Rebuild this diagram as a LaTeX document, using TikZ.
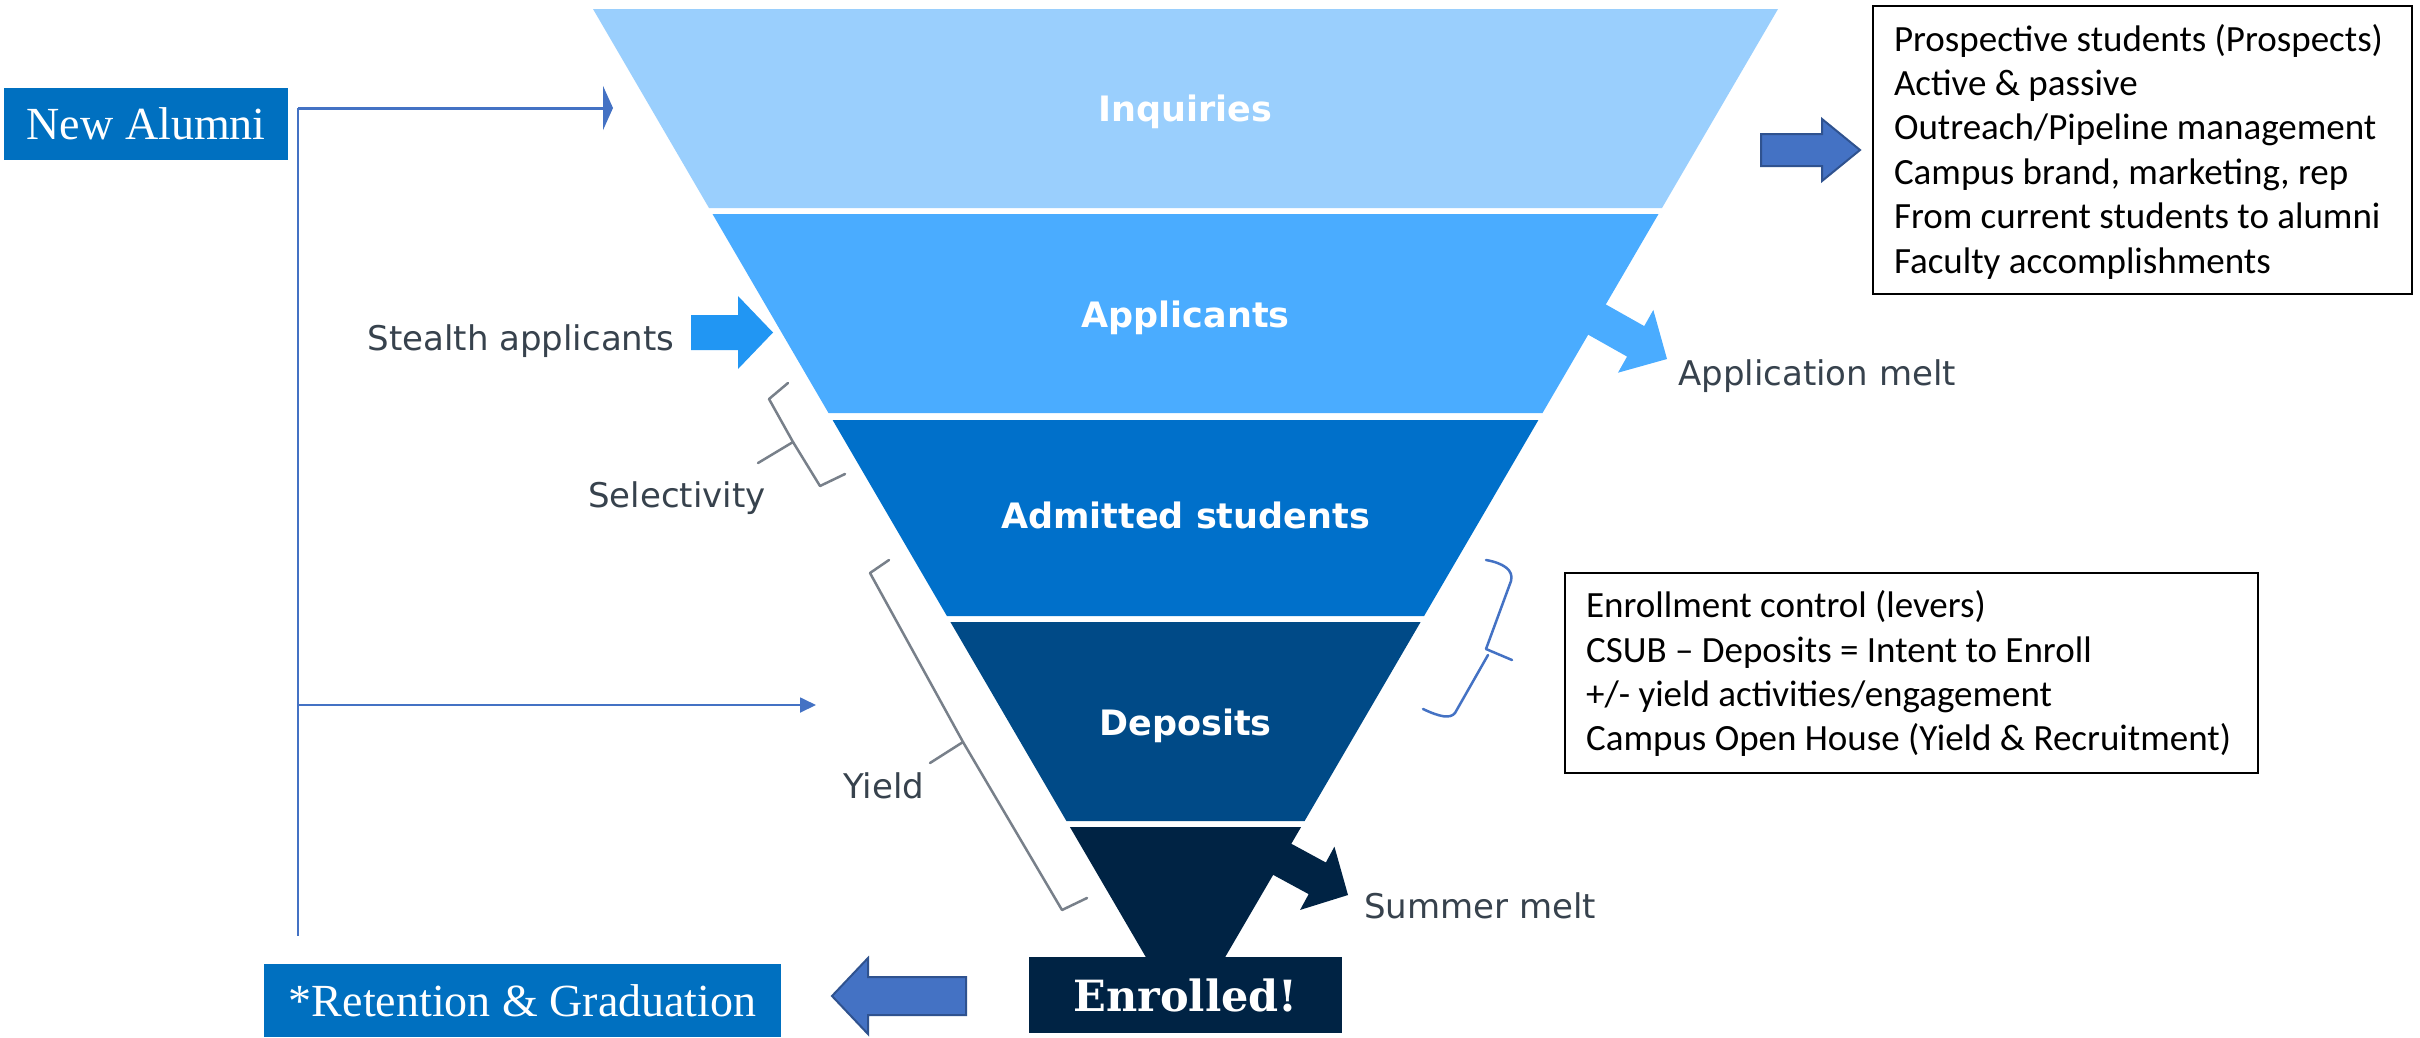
\documentclass[tikz,border=0pt]{standalone}
\usepackage{fontspec}
\setmainfont{Liberation Serif}
\newfontfamily\verd{DejaVu Sans}
\newfontfamily\calib{Carlito}
\newfontfamily\slab{DejaVu Serif}
\usetikzlibrary{arrows.meta}
\definecolor{cInq}{HTML}{9ACFFD}
\definecolor{cApp}{HTML}{4AACFF}
\definecolor{cAdm}{HTML}{0070CA}
\definecolor{cDep}{HTML}{004A87}
\definecolor{cEnr}{HTML}{002344}
\definecolor{cStealth}{HTML}{2196F3}
\definecolor{cBox}{HTML}{0070C0}
\definecolor{cArrow}{HTML}{4472C4}
\definecolor{cArrowB}{HTML}{2F528F}
\definecolor{cBrk}{HTML}{78808A}
\definecolor{cLbl}{HTML}{37424D}
\begin{document}
\begin{tikzpicture}[x=1pt,y=-1pt,
  bandlbl/.style={text=white,font=\verd\bfseries\fontsize{35}{40}\selectfont,anchor=base,inner sep=0pt},
  sidelbl/.style={text=cLbl,font=\verd\fontsize{34}{40}\selectfont,anchor=base west,inner sep=0pt},
  bluebox/.style={fill=cBox,text=white,inner sep=0pt,anchor=north west,font=\fontsize{46}{50}\selectfont},
  infobox/.style={draw=black,line width=2pt,inner sep=0pt,anchor=north west,font=\calib\fontsize{37}{44.4}\selectfont},
  conn/.style={draw=cArrow},
  brk/.style={draw=cBrk,line width=2.5pt,line join=round,line cap=round},
  brace/.style={draw=cArrow,line width=2.5pt,line join=round,line cap=round},
  blockarrow/.style={fill=cArrow,draw=cArrowB,line width=2pt,line join=miter}
]
\useasboundingbox[fill=white] (0,0) rectangle (2420,1037);

% funnel bands
\fill[cInq] (593,9) -- (1778,9) -- (1662,208) -- (709,208) -- cycle;
\fill[cApp] (712.5,214) -- (1658.5,214) -- (1542.5,413) -- (828.5,413) -- cycle;
\fill[cAdm] (832.6,420) -- (1538.4,420) -- (1424.1,616) -- (946.9,616) -- cycle;
\fill[cDep] (950.4,622) -- (1420.6,622) -- (1304.6,821) -- (1066.4,821) -- cycle;
\fill[cEnr] (1069.9,827) -- (1301.1,827) -- (1185.5,1025) -- cycle;

% melt arrows
\begin{scope}[shift={(1667,359)},rotate=-29.4]
  \fill[cApp] (0,0) -- (-36,36) -- (-36,17.5) -- (-110,17.5) -- (-110,-17.5) -- (-36,-17.5) -- (-36,-36) -- cycle;
\end{scope}
\begin{scope}[shift={(1348,895)},rotate=-28.5]
  \fill[cEnr] (0,0) -- (-35,36) -- (-35,18) -- (-100,18) -- (-100,-18) -- (-35,-18) -- (-35,-36) -- cycle;
\end{scope}

% band labels
\node[bandlbl] (inq) at (1185.5,121.7) {Inquiries};
\node[bandlbl] (app) at (1185.5,327) {Applicants};
\node[bandlbl] (adm) at (1185.5,528.6) {Admitted students};
\node[bandlbl] (dep) at (1185.5,735) {Deposits};

% stealth arrow
\fill[cStealth] (691,315) -- (738,315) -- (738,296) -- (773,332.5) -- (738,369) -- (738,350) -- (691,350) -- cycle;

% side labels
\node[sidelbl] (stealth) at (367.5,350) {Stealth applicants};
\node[sidelbl] (sel) at (588,507) {Selectivity};
\node[sidelbl] (yield) at (843,798) {Yield};
\node[sidelbl] (amelt) at (1678,385) {Application melt};
\node[sidelbl] (smelt) at (1364,918) {Summer melt};

% gray brackets
\draw[brk] (788,383) -- (769,399) -- (793,442) -- (820,486) -- (845,474);
\draw[brk] (793,442) -- (758,463);
\draw[brk] (889,560) -- (870,573) -- (963,742) -- (1062,910) -- (1087,898);
\draw[brk] (963,742) -- (930,763);

% blue brace
\draw[brace] (1486,560) .. controls (1503,563) and (1514,570) .. (1511,581) -- (1486,649) -- (1512,660);
\draw[brace] (1488,655) -- (1455,713) .. controls (1450,719) and (1440,717) .. (1423,709);

% enrolled box
\node[fill=cEnr,text=white,minimum width=313pt,minimum height=76pt,inner sep=0pt,anchor=north west,
  font=\slab\bfseries\fontsize{43}{48}\selectfont] (enr) at (1029,957) {Enrolled!};

% left boxes
\node[bluebox,minimum width=284pt,minimum height=72pt] (alumni) at (4,88) {New Alumni};
\node[bluebox,minimum width=517pt,minimum height=73pt] (ret) at (264,964) {*Retention \& Graduation};

% connectors from New Alumni
\coordinate (j1) at (298,108);
\coordinate (t1) at (613,108);
\coordinate (j2) at (298,705);
\coordinate (t2) at (816,705);
\coordinate (jend) at (298,936);
\draw[conn,line width=1.2pt] (j1) -- (jend);
\draw[conn,line width=3pt,-{Triangle[length=10pt,width=44pt]}] (j1) -- (t1);
\draw[conn,line width=1.8pt,-{Triangle[length=16pt,width=15pt]}] (j2) -- (t2);

% block arrows
\filldraw[blockarrow] (1761,134) -- (1822,134) -- (1822,119) -- (1860,150) -- (1822,181) -- (1822,166) -- (1761,166) -- cycle;
\filldraw[blockarrow] (966,977) -- (868,977) -- (868,958) -- (832,996) -- (868,1034) -- (868,1015) -- (966,1015) -- cycle;

% info boxes
\node[infobox,minimum width=539pt,minimum height=288pt] (prosp) at (1872,5)
  {\parbox[c][288pt][t]{497pt}{\rule{0pt}{45pt}Prospective students (Prospects)\\
   Active \& passive\\
   Outreach/Pipeline management\\
   Campus brand, marketing, rep\\
   From current students to alumni\\
   Faculty accomplishments}};
\node[infobox,minimum width=693pt,minimum height=200.6pt] (ctrl) at (1563.6,571.7)
  {\parbox[c][200.6pt][t]{650pt}{\rule{0pt}{45pt}Enrollment control (levers)\\
   CSUB – Deposits = Intent to Enroll\\
   +/- yield activities/engagement\\
   Campus Open House (Yield \& Recruitment)}};
\end{tikzpicture}
\end{document}
